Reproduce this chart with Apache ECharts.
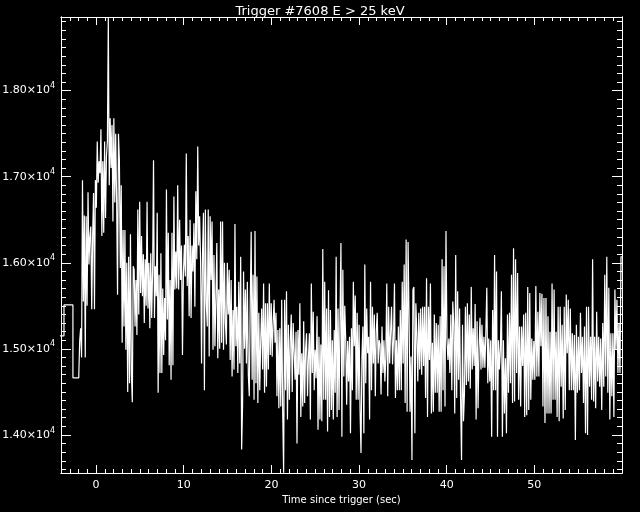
<!DOCTYPE html>
<html>
<head>
<meta charset="utf-8">
<script src="https://cdn.jsdelivr.net/npm/echarts@6/dist/echarts.min.js"></script>
<style>
  html, body { margin: 0; padding: 0; background: #000; }
  #chart { width: 640px; height: 512px; }
</style>
</head>
<body>
<div id="chart"></div>
<script>
// ---- Data ----
// coarse (1.024 s) pre-burst bins: start times and counts/sec
const coarseTimes = [-4.70, -3.66, -2.64];
const coarseCounts = [15150, 15510, 14663];

// fine-resolution segments: start time of each segment, and end time of the last
const segStarts = [-1.97, 8.66, 21.18, 33.71, 46.24];
const segEnd = 60.0;

const segA = [14700, 15100, 15240, 14900, 16960, 15550, 16550, 14900, 16540, 15500, 16820, 15980, 16300, 16420, 15460, 16300, 16810, 15460, 16960, 16640, 17410, 16930, 17180, 17040, 17550, 16310, 17180, 16350, 17410, 16520, 17240, 17410, 18850, 16900, 17680, 17100, 17600, 16480, 17680, 16700, 17500, 16730, 15630, 17500, 17190, 15940, 16900, 15070, 16380, 15260, 16380, 14990, 16000, 14500, 16070, 14600, 16330, 14720, 14380, 15960, 15920, 15260, 15800, 15160, 16620, 15400, 16710, 15650, 16310, 15610, 16100, 15300, 16040, 15500, 16710, 15470, 16000, 15240, 16110, 15360, 15900, 17190, 15360, 15960, 15610, 16580, 14490, 15860, 14720, 16110, 14720, 15700, 14930, 15590, 15100, 16850, 15340, 16350, 14810, 15800, 14640];

const segB = [16350, 14810, 16770, 15690, 16130, 15700, 16900, 15690, 16500, 15800, 16200, 14930, 15880, 16210, 15840, 17270, 15730, 16310, 15380, 16500, 15360, 16200, 15900, 16460, 15490, 16830, 16040, 17350, 16200, 16540, 16000, 14830, 16110, 16580, 14520, 16620, 15530, 15260, 16620, 14910, 16540, 15800, 16480, 14990, 16090, 15030, 15600, 16230, 14890, 15690, 15000, 16480, 15070, 16480, 14990, 16000, 15300, 15050, 16000, 15400, 15920, 14870, 15800, 14680, 15450, 14760, 16450, 15030, 15490, 14720, 15780, 14830, 16070, 13830, 14350, 15900, 15000, 15690, 14830, 15780, 14700, 14450, 15530, 16360, 14640, 15860, 14410, 16370, 14600, 15840, 14370, 15420, 14520, 15100, 15470, 14760, 15760, 14490, 15530, 14560, 15530, 14760, 15760, 14930, 15530, 14910, 15300, 15570, 15070, 15420, 14450, 15220, 14310, 15240, 14330];

const segC = [15570, 14290, 13560, 15570, 14520, 15670, 14180, 15280, 14410, 15100, 15400, 14500, 15300, 15280, 14640, 15200, 13900, 15220, 14700, 15530, 14210, 14950, 14330, 15320, 14370, 15000, 15180, 14450, 14900, 15180, 14180, 15760, 14720, 15430, 14520, 14990, 14660, 15380, 14060, 15140, 14180, 15050, 14160, 16160, 14410, 15780, 14410, 15470, 14040, 15680, 14210, 15450, 14290, 15100, 14180, 15220, 14490, 16070, 14210, 15470, 14290, 15300, 16230, 13980, 15920, 14680, 15500, 15100, 14350, 15090, 14620, 15140, 14020, 15240, 14520, 15780, 15030, 15620, 14410, 15420, 14410, 15280, 14290, 13790, 14910, 15260, 14020, 15980, 14600, 15470, 14950, 15140, 14180, 15780, 14520, 15490, 14830, 15400, 14450, 15200, 15420, 14830, 15100, 15050, 14470, 15260, 14720, 15100, 14620, 14900, 15760, 14450, 15490, 14830, 15200];

const segD = [15490, 14820, 15100, 15760, 14430, 15100, 14520, 15260, 14520, 15450, 14520, 15780, 14830, 15980, 14370, 16270, 14270, 16240, 15380, 14270, 14910, 13710, 15690, 15720, 14020, 15530, 15180, 14620, 15420, 14760, 15470, 14700, 15490, 14800, 15490, 14430, 15820, 14210, 15490, 14870, 15760, 14250, 15070, 14270, 15400, 14490, 15300, 14490, 15280, 14270, 15380, 14270, 16040, 14520, 15960, 14330, 16370, 15120, 14870, 15120, 14720, 15400, 14520, 15550, 15280, 14250, 16090, 14430, 15670, 14640, 15470, 14430, 13710, 15280, 14160, 14480, 15490, 14580, 15530, 14620, 15400, 14540, 15720, 14760, 15240, 14800, 15520, 14180, 15320, 14310, 15000, 15360, 14760, 15280, 14780, 15140, 14780, 15180, 15710, 14600, 15120, 14620, 15100, 13980, 15450, 14520, 16090, 14520, 15900, 13980, 15100, 14760, 15000];

const segE = [15670, 13980, 15100, 14250, 14890, 14020, 15400, 14490, 15420, 14600, 15860, 14370, 16170, 14390, 16040, 14720, 15880, 14410, 15260, 14330, 15260, 14800, 15400, 14210, 15420, 14230, 15720, 14290, 15650, 14410, 15120, 14640, 15090, 14640, 15730, 14680, 15430, 14680, 15650, 15030, 15640, 14330, 15590, 14140, 15590, 14250, 15380, 14250, 15200, 14250, 15760, 14410, 15690, 14410, 15200, 14210, 15490, 14160, 15490, 14560, 15280, 14190, 15490, 14290, 15630, 14950, 15570, 14520, 15470, 14520, 15180, 14520, 15160, 13940, 15280, 14490, 15140, 14520, 15420, 14720, 15140, 14370, 15260, 14020, 15490, 14000, 15490, 14560, 15140, 14410, 16040, 14390, 15140, 14310, 15430, 14620, 15140, 14560, 15120, 14290, 15300, 14560, 15860, 14680, 16070, 14490, 15710, 14180, 15180, 14450, 15180, 14210, 15690, 14990, 15570, 14720, 15300, 14720, 16070];

// axis ticks / labels
const xMajorTicks = [0, 10, 20, 30, 40, 50];
const yMajorTicks = [14000, 15000, 16000, 17000, 18000];
const xRange = [-4, 60];
const yRange = [13558, 18855];
const titleText = 'Trigger #7608 E > 25 keV';
const xTitle = 'Time since trigger (sec)';
const yTitle = 'Counts/sec';

// ---- build series data (histogram steps) ----
const pts = [];
coarseTimes.forEach((t, i) => pts.push([t, coarseCounts[i]]));
const segs = [segA, segB, segC, segD, segE];
segs.forEach((seg, k) => {
  const t0 = segStarts[k];
  const t1 = k + 1 < segStarts.length ? segStarts[k + 1] : segEnd;
  const dt = (t1 - t0) / seg.length;
  seg.forEach((v, i) => pts.push([t0 + i * dt, v]));
});
pts.push([segEnd, segE[segE.length - 1]]);

const xMinor = [];
for (let t = xRange[0]; t <= xRange[1]; t += 1) xMinor.push(t);
const yMinor = [];
for (let v = 13600; v <= 18800; v += 100) yMinor.push(v);

const W = '#ffffff';
const FONT = 'DejaVu Sans';

function xAx(pos, ticks, len, labels, extra) {
  return Object.assign({
    type: 'value', position: pos, min: xRange[0], max: xRange[1],
    axisLine: { show: true, onZero: false, lineStyle: { color: W, width: 1 } },
    axisTick: { show: true, inside: true, length: len, customValues: ticks, lineStyle: { color: W, width: 1 } },
    axisLabel: labels ? { show: true, customValues: labels, color: W, fontSize: 11, fontFamily: FONT, margin: 7 } : { show: false },
    splitLine: { show: false }
  }, extra || {});
}
function yAx(pos, ticks, len, labels, extra) {
  return Object.assign({
    type: 'value', position: pos, min: yRange[0], max: yRange[1],
    axisLine: { show: true, onZero: false, lineStyle: { color: W, width: 1 } },
    axisTick: { show: true, inside: true, length: len, customValues: ticks, lineStyle: { color: W, width: 1 } },
    axisLabel: labels ? {
      show: true, customValues: labels, margin: 6,
      formatter: v => '{a|' + (v / 10000).toFixed(2) + '×10}{s|4}',
      rich: {
        a: { color: W, fontSize: 11, fontFamily: FONT },
        s: { color: W, fontSize: 8, fontFamily: FONT, padding: [0, 0, 9, 0] }
      }
    } : { show: false },
    splitLine: { show: false }
  }, extra || {});
}

const chart = echarts.init(document.getElementById('chart'), null, { renderer: 'canvas' });
chart.setOption({
  backgroundColor: '#000000',
  animation: false,
  title: {
    text: titleText, left: 'center', top: 0,
    textStyle: { color: W, fontSize: 13, fontWeight: 'normal', fontFamily: FONT }
  },
  grid: { left: 61, right: 18, top: 17, bottom: 39, containLabel: false, outerBoundsMode: 'none' },
  xAxis: [
    xAx('bottom', xMajorTicks, 8, xMajorTicks, {
      name: xTitle, nameLocation: 'middle', nameGap: 20,
      nameTextStyle: { color: W, fontSize: 10, fontFamily: FONT }
    }),
    xAx('bottom', xMinor, 4, null),
    xAx('top', xMajorTicks, 8, null),
    xAx('top', xMinor, 4, null)
  ],
  yAxis: [
    yAx('left', yMajorTicks, 10, yMajorTicks, {
      name: yTitle, nameLocation: 'middle', nameGap: 61, nameRotate: 90,
      nameTextStyle: { color: W, fontSize: 11, fontFamily: FONT }
    }),
    yAx('left', yMinor, 5, null),
    yAx('right', yMajorTicks, 10, null),
    yAx('right', yMinor, 5, null)
  ],
  series: [{
    type: 'line', step: 'end', data: pts, xAxisIndex: 0, yAxisIndex: 0,
    showSymbol: false, symbol: 'none', clip: true,
    lineStyle: { color: W, width: 1.2 }
  }]
});
</script>
</body>
</html>
